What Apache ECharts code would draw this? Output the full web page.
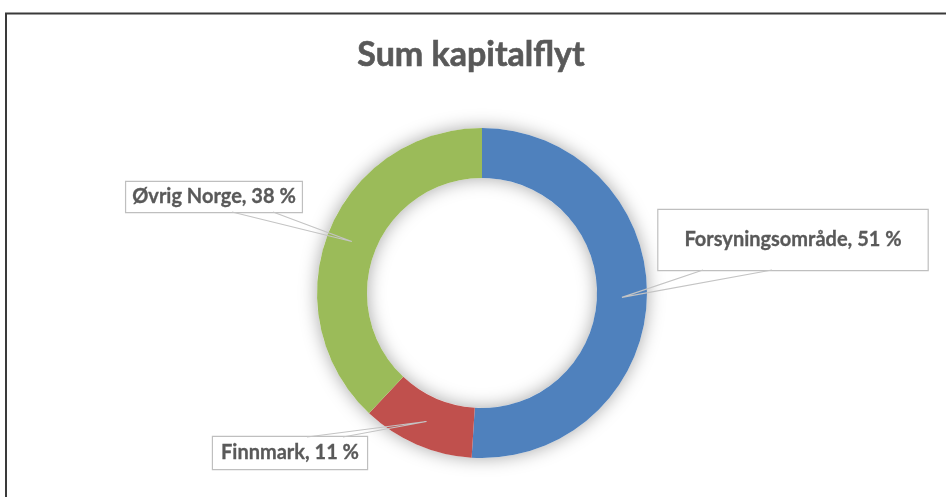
<!DOCTYPE html>
<html>
<head>
<meta charset="utf-8">
<script src="https://cdn.jsdelivr.net/npm/echarts@6/dist/echarts.min.js"></script>
<style>
  html, body { margin: 0; padding: 0; background: #fff; }
  #chart { width: 946px; height: 497px; }
</style>
</head>
<body>
<div id="chart"></div>
<script>
var categories = ['Forsyningsområde', 'Finnmark', 'Øvrig Norge'];
var shares = [51, 11, 38];
var colors = ['#4f81bd', '#c0504d', '#9bbb59'];

// callout boxes: centre of box, the two points where the pointer leaves the box, padding
var callouts = [
    { cx: 793, cy: 240, a: [-90, 30], b: [-21, 30], pad: [20, 26] },
    { cx: 290, cy: 453, a: [17, -16], b: [53, -16], pad: [6, 8] },
    { cx: 214, cy: 197, a: [18, 15], b: [59, 15], pad: [5, 6] }
];

var center = [482, 293];
var radius = [115, 165];

var total = shares.reduce(function (s, v) { return s + v; }, 0);

// point in the middle of the ring at the middle angle of slice i
function anchorOf(i) {
    var before = 0;
    for (var k = 0; k < i; k++) before += shares[k];
    var ang = (before + shares[i] / 2) / total * Math.PI * 2;
    var r = (radius[0] + radius[1]) / 2;
    return [center[0] + r * Math.sin(ang), center[1] - r * Math.cos(ang)];
}

var pointers = callouts.map(function (c, i) {
    return {
        type: 'polyline',
        z: 100,
        silent: true,
        shape: {
            points: [
                [c.cx + c.a[0], c.cy + c.a[1]],
                anchorOf(i),
                [c.cx + c.b[0], c.cy + c.b[1]]
            ]
        },
        style: { stroke: '#c4c4c4', lineWidth: 1.2, fill: null }
    };
});

var chart = echarts.init(document.getElementById('chart'));
chart.setOption({
    animation: false,
    title: {
        text: 'Sum kapitalflyt',
        left: 466,
        top: 33,
        textAlign: 'center',
        textStyle: {
            fontFamily: 'Lato',
            fontWeight: 'bold',
            fontSize: 34,
            color: '#595959',
            textBorderColor: '#595959',
            textBorderWidth: 0.6
        }
    },
    graphic: [{
        type: 'polyline',
        shape: { points: [[6, 497], [6, 13.5], [946, 13.5]] },
        style: { stroke: '#3a3a3a', lineWidth: 2, fill: null }
    }].concat(pointers),
    series: [
        {
            // soft glow behind the ring
            type: 'pie',
            silent: true,
            center: center,
            radius: radius,
            label: { show: false },
            labelLine: { show: false },
            itemStyle: {
                color: '#ffffff',
                shadowBlur: 18,
                shadowColor: 'rgba(0,0,0,0.35)'
            },
            data: [{ value: 1 }],
            z: 1
        },
        {
            type: 'pie',
            center: center,
            radius: radius,
            startAngle: 90,
            clockwise: true,
            z: 2,
            data: categories.map(function (name, i) {
                return {
                    name: name,
                    value: shares[i],
                    itemStyle: { color: colors[i] },
                    label: { padding: callouts[i].pad }
                };
            }),
            label: {
                show: true,
                position: 'inside',
                overflow: 'none',
                formatter: function (p) { return p.name + ', ' + p.value + ' %'; },
                fontFamily: 'Lato',
                fontWeight: 'bold',
                fontSize: 20,
                color: '#595959',
                textBorderColor: '#595959',
                textBorderWidth: 0.3,
                backgroundColor: '#ffffff',
                borderColor: '#bfbfbf',
                borderWidth: 1.2
            },
            labelLine: { show: false },
            labelLayout: function (params) {
                var c = callouts[params.dataIndex];
                return {
                    x: c.cx,
                    y: c.cy,
                    align: 'center',
                    verticalAlign: 'middle'
                };
            }
        }
    ]
});
</script>
</body>
</html>
